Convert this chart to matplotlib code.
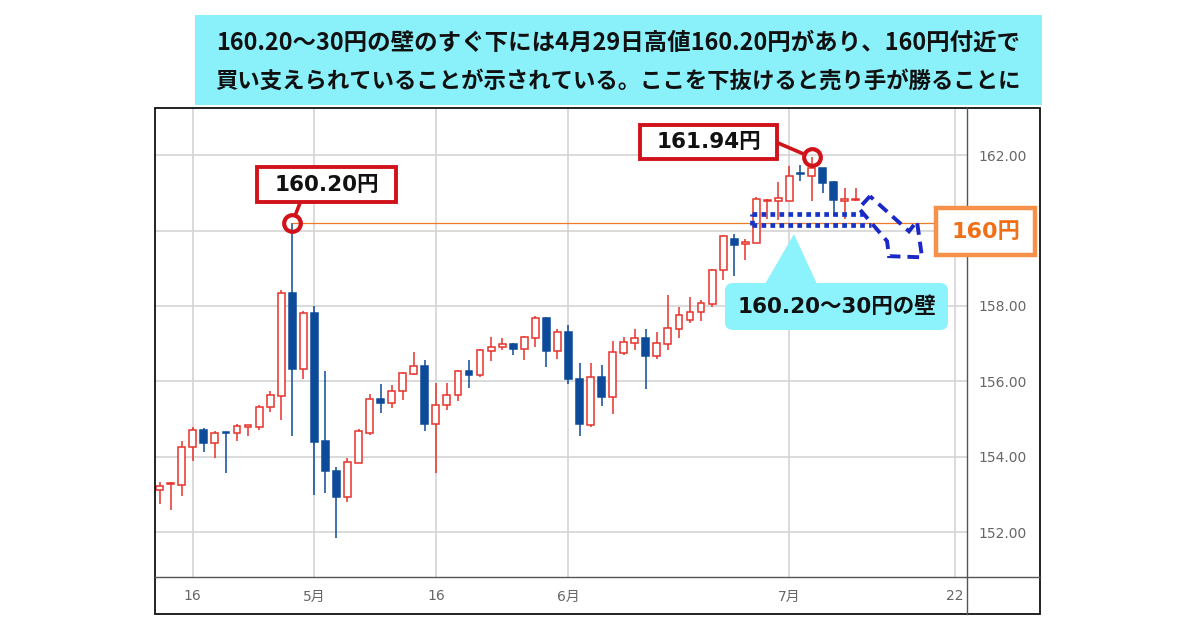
import matplotlib
matplotlib.use('Agg')
import matplotlib.pyplot as plt
import matplotlib.patches as patches
import pandas as pd

plt.rcParams['font.family'] = ['DejaVu Sans', 'Noto Sans CJK JP']

# daily candles, USD/JPY, 2024-04-11 .. 2024-07-09 (weekdays)
start_date = '2024-04-11'
end_date = '2024-07-09'
axis_end = '2024-07-24'

opens = [153.11, 153.27, 153.25, 154.25, 154.71, 154.36, 154.65, 154.62, 154.80, 154.80,
         155.32, 155.61, 158.34, 156.32, 157.82, 154.41, 153.63, 152.94, 153.83, 154.63,
         155.54, 155.43, 155.74, 156.20, 156.40, 154.87, 155.36, 155.63, 156.27, 156.16,
         156.81, 156.92, 157.00, 156.87, 157.16, 157.67, 156.80, 157.30, 156.07, 154.83,
         156.12, 155.58, 156.76, 157.02, 157.16, 156.68, 156.98, 157.38, 157.64, 157.83,
         158.05, 158.94, 159.78, 159.63, 159.67, 160.78, 160.77, 160.79, 161.53, 161.45,
         161.65, 161.30, 160.77, 160.81]
highs = [153.32, 153.34, 154.41, 154.78, 154.75, 154.67, 154.66, 154.87, 154.85, 155.38,
         155.74, 158.43, 160.20, 157.87, 158.01, 156.27, 153.73, 153.96, 154.74, 155.67,
         155.92, 155.89, 156.24, 156.78, 156.56, 155.96, 155.96, 156.31, 156.56, 156.85,
         157.18, 157.16, 157.02, 157.20, 157.72, 157.70, 157.38, 157.49, 156.49, 156.49,
         156.44, 157.08, 157.18, 157.40, 157.38, 157.32, 158.28, 157.96, 158.23, 158.16,
         158.99, 159.89, 159.92, 159.78, 160.88, 160.83, 161.28, 161.71, 161.74, 161.94,
         161.67, 161.31, 161.12, 161.12]
lows = [152.74, 152.58, 152.95, 153.88, 154.13, 153.96, 153.57, 154.43, 154.54, 154.71,
        155.19, 154.98, 154.54, 156.05, 152.98, 153.05, 151.85, 152.80, 153.83, 154.58,
        155.16, 155.29, 155.51, 156.18, 154.69, 153.58, 155.24, 155.49, 155.83, 156.12,
        156.54, 156.84, 156.69, 156.56, 156.92, 156.38, 156.58, 155.94, 154.54, 154.78,
        155.34, 155.14, 156.69, 156.83, 155.80, 156.58, 156.83, 157.16, 157.54, 157.61,
        157.96, 158.70, 158.79, 159.21, 159.67, 160.30, 160.29, 160.77, 161.31, 160.79,
        160.99, 160.39, 160.30, 160.77]
closes = [153.23, 153.30, 154.27, 154.71, 154.36, 154.63, 154.62, 154.82, 154.83, 155.33,
          155.63, 158.34, 156.32, 157.82, 154.38, 153.61, 152.94, 153.85, 154.67, 155.52,
          155.43, 155.74, 156.22, 156.40, 154.87, 155.36, 155.63, 156.28, 156.18, 156.83,
          156.92, 157.00, 156.87, 157.18, 157.67, 156.80, 157.32, 156.05, 154.87, 156.12,
          155.58, 156.78, 157.05, 157.14, 156.68, 157.02, 157.41, 157.76, 157.85, 158.07,
          158.94, 159.85, 159.61, 159.69, 160.84, 160.82, 160.86, 161.45, 161.49, 161.67,
          161.27, 160.80, 160.83, 160.84]

tick_dates = ['2024-04-16', '2024-05-01', '2024-05-16', '2024-06-03', '2024-07-01', '2024-07-22']
tick_labels = ['16', '5月', '16', '6月', '7月', '22']
price_ticks = [152, 154, 156, 158, 160, 162]
hidden_price_labels = [160]   # covered by the 160円 box

april_high = 160.20      # 4/29 high
wall_top = 160.45        # dotted band as drawn on the chart
wall_bottom = 160.14

title_lines = ['160.20～30円の壁のすぐ下には4月29日高値160.20円があり、160円付近で',
               '買い支えられていることが示されている。ここを下抜けると売り手が勝ることに']
label_april = '160.20円'
label_july = '161.94円'
label_level = '160円'
label_wall = '160.20～30円の壁'

UP = '#e8322c'
DOWN = '#0d4a9a'
MARK_RED = '#d0121a'
ORANGE = '#f07a28'
CYAN = '#8cf2fb'
DOT_BLUE = '#1535c8'

W, H = 1200, 630
fig = plt.figure(figsize=(12, 6.3), dpi=100)
fig.patch.set_facecolor('white')

# price area in pixels: x 155..967, y 108..577
ax = fig.add_axes([155 / W, (H - 577) / H, (967 - 155) / W, (577 - 108) / H])

days = pd.bdate_range(start_date, end_date)
all_days = pd.bdate_range(start_date, axis_end)
xs = list(range(len(days)))

for x, o, h, l, c in zip(xs, opens, highs, lows, closes):
    col = UP if c >= o else DOWN
    ax.vlines(x, l, h, color=col, linewidth=1.1, zorder=2)
    body = max(abs(c - o), 0.03)
    ax.bar(x, body, bottom=min(o, c), width=0.62,
           facecolor='white' if c >= o else DOWN, edgecolor=col,
           linewidth=1.1, zorder=3)

ax.set_xlim(-0.42, 73.07)
ax.set_ylim(150.81, 163.25)

tick_pos = all_days.get_indexer(pd.to_datetime(tick_dates))
ax.set_xticks(tick_pos)
ax.set_xticklabels(tick_labels)
ax.set_yticks(price_ticks)
ax.set_yticklabels(['' if p in hidden_price_labels else f'{p:.2f}' for p in price_ticks])
ax.yaxis.tick_right()
ax.tick_params(axis='y', length=0, pad=8, labelsize=10, labelcolor='#666666')
ax.tick_params(axis='x', length=0, pad=9, labelsize=10, labelcolor='#666666')
ax.grid(True, color='#d4d4d4', linewidth=1.2)
ax.set_axisbelow(True)
for s in ax.spines.values():
    s.set_visible(False)

# 4/29 high line
i_apr = highs.index(april_high)
ax.hlines(april_high, i_apr, 73.07, color=ORANGE, linewidth=0.9, zorder=4)

# high markers
i_top = highs.index(max(highs))
for i in (i_apr, i_top):
    ax.plot(i, highs[i], 'o', ms=12, mfc='none', mec=MARK_RED, mew=3, zorder=6, clip_on=False)

# dotted "wall" band
dot = dict(color=DOT_BLUE, linewidth=3.4, linestyle=(0, (1, 0.9)), zorder=5)
ax.hlines(wall_top, 53.6, 63.7, **dot)
ax.hlines(wall_bottom, 53.6, 64.4, **dot)
ax.vlines(53.6, wall_bottom, wall_top, **dot)

# dashed outlined arrow pointing down-right
arrow_outline = [(64.29, 160.91), (63.28, 160.59), (65.83, 159.72), (66.01, 159.32),
                 (69.0, 159.29), (68.54, 160.25), (67.82, 159.98)]
ax.add_patch(patches.Polygon(arrow_outline, closed=True, fill=False, edgecolor='#1a28c8',
                             linewidth=2.8, linestyle=(0, (3, 1.8)), zorder=5, clip_on=False))

# overlay in pixel coordinates (y down)
ov = fig.add_axes([0, 0, 1, 1], zorder=5)
ov.set_xlim(0, W)
ov.set_ylim(H, 0)
ov.axis('off')


def to_px(x, y):
    dx, dy = ax.transData.transform((x, y))
    return dx, H - dy


# outer frame and separators
ov.add_patch(patches.Rectangle((155, 108), 885, 506, fill=False, edgecolor='#111111', linewidth=1.3, zorder=1))
ov.plot([967, 967], [108, 614], color='#555555', linewidth=1.0, zorder=1)
ov.plot([155, 1040], [577, 577], color='#555555', linewidth=1.0, zorder=1)

# title box
ov.add_patch(patches.Rectangle((195, 15), 847, 90, facecolor='#8af0fa', edgecolor='none', zorder=2))
for k, (line, fs) in enumerate(zip(title_lines, (16.9, 16.1))):
    ov.text(618, 43 + k * 38, line, ha='center', va='center', fontsize=fs,
            fontweight='bold', family=['Noto Sans CJK JP'], color='#111111', zorder=3)


def connector(p_from, center, r=9):
    cx, cy = center
    fx, fy = p_from
    d = ((cx - fx) ** 2 + (cy - fy) ** 2) ** 0.5
    ex, ey = cx - (cx - fx) * r / d, cy - (cy - fy) * r / d
    ov.plot([fx, ex], [fy, ey], color=MARK_RED, linewidth=2.6, zorder=3, solid_capstyle='butt')


# 160.20 label
ov.add_patch(patches.Rectangle((257, 167), 139, 35, facecolor='white', edgecolor=MARK_RED, linewidth=2.8, zorder=3))
ov.text(326.5, 185, label_april, ha='center', va='center', fontsize=15.5, fontweight='bold', color='#111111', zorder=4)
connector((300, 203), to_px(i_apr, highs[i_apr]))

# 161.94 label
ov.add_patch(patches.Rectangle((640, 125), 137, 34, facecolor='white', edgecolor=MARK_RED, linewidth=2.8, zorder=3))
ov.text(708.5, 142.5, label_july, ha='center', va='center', fontsize=15.5, fontweight='bold', color='#111111', zorder=4)
connector((778, 143), to_px(i_top, highs[i_top]))

# 160 level box
ov.add_patch(patches.Rectangle((936, 208), 99, 47, facecolor='white', edgecolor='#f5914b', linewidth=3.2, zorder=3))
ov.text(985.5, 232, label_level, ha='center', va='center', fontsize=16, fontweight='bold', color='#f07018', zorder=4)

# wall callout
ov.add_patch(patches.Polygon([(765, 284), (817, 284), (794, 234)], closed=True, facecolor=CYAN, edgecolor='none', zorder=3))
ov.add_patch(patches.FancyBboxPatch((725, 283), 223, 47, boxstyle='round,pad=0,rounding_size=8',
                                    facecolor=CYAN, edgecolor='none', zorder=3))
ov.text(836.5, 307, label_wall, ha='center', va='center', fontsize=15.5, fontweight='bold', color='#111111', zorder=4)

fig.savefig('out.png', dpi=100)
